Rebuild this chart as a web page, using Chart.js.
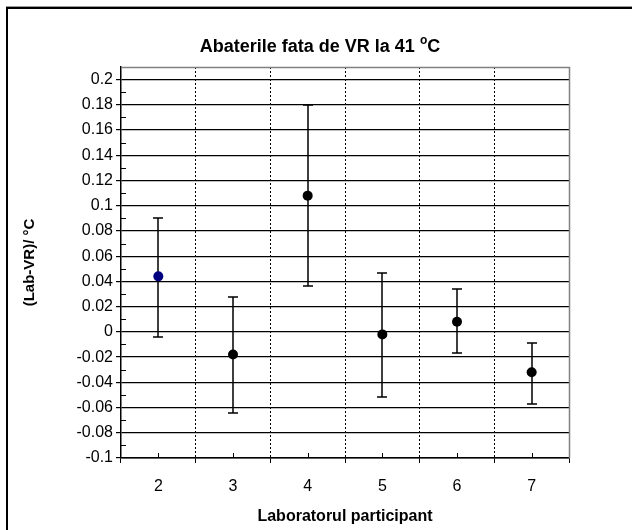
<!DOCTYPE html>
<html>
<head>
<meta charset="utf-8">
<script src="https://cdn.jsdelivr.net/npm/chart.js@4.4.0/dist/chart.umd.min.js"></script>
<style>
  html, body { margin: 0; padding: 0; background: #fff; }
  #wrap { width: 632px; height: 530px; }
</style>
</head>
<body>
<div id="wrap"><canvas id="chart" width="632" height="530"></canvas></div>
<script>
// valori
const labs = ['2', '3', '4', '5', '6', '7'];
const deviations = [0.044, -0.018, 0.108, -0.002, 0.008, -0.032];
const errLow = [-0.004, -0.064, 0.036, -0.052, -0.017, -0.057];
const errHigh = [0.090, 0.028, 0.180, 0.047, 0.034, -0.009];
const pointColors = ['#000080', '#000', '#000', '#000', '#000', '#000'];
const yTicks = [-0.1, -0.08, -0.06, -0.04, -0.02, 0, 0.02, 0.04, 0.06, 0.08, 0.1, 0.12, 0.14, 0.16, 0.18, 0.2];
const yMin = -0.1, yMax = 0.21;

const titleMain = 'Abaterile fata de VR la 41 ';
const titleSup = 'o';
const titleEnd = 'C';
const xTitle = 'Laboratorul participant';
const yTitle = '(Lab-VR)/ °C';

const FONT = "'Liberation Sans', Arial, sans-serif";

// bare de eroare, liniute secundare, rama
const decor = {
  id: 'decor',
  beforeDatasetsDraw(chart) {
    const { ctx, scales: { x, y } } = chart;
    ctx.save();
    ctx.strokeStyle = '#000';
    ctx.lineWidth = 1.5;
    labs.forEach((lab, i) => {
      const px = Math.round(x.getPixelForValue(i));
      const top = Math.round(y.getPixelForValue(errHigh[i]));
      const bot = Math.round(y.getPixelForValue(errLow[i]));
      ctx.beginPath();
      ctx.moveTo(px, top); ctx.lineTo(px, bot);
      ctx.moveTo(px - 5, top); ctx.lineTo(px + 5, top);
      ctx.moveTo(px - 5, bot); ctx.lineTo(px + 5, bot);
      ctx.stroke();
    });
    ctx.restore();
  },
  afterDraw(chart) {
    const { ctx, chartArea: a, scales: { x, y } } = chart;
    ctx.save();
    // rama gri sus / dreapta
    ctx.strokeStyle = '#808080';
    ctx.lineWidth = 1.5;
    ctx.beginPath();
    ctx.moveTo(a.left, a.top + 0.5);
    ctx.lineTo(a.right + 0.5, a.top + 0.5);
    ctx.lineTo(a.right + 0.5, a.bottom);
    ctx.stroke();

    ctx.strokeStyle = '#000';
    ctx.lineWidth = 1;
    ctx.beginPath();
    // liniute minore pe Y, spre interior
    yTicks.forEach(v => {
      const py = Math.round(y.getPixelForValue(v + 0.01)) + 0.5;
      if (v + 0.01 < yMax) { ctx.moveTo(a.left, py); ctx.lineTo(a.left + 5, py); }
    });
    // liniute in dreptul categoriilor, spre interior
    labs.forEach((lab, i) => {
      const px = Math.round(x.getPixelForValue(i)) + 0.5;
      ctx.moveTo(px, a.bottom); ctx.lineTo(px, a.bottom - 5);
    });
    ctx.stroke();

    // rama exterioara
    ctx.strokeStyle = '#999';
    ctx.lineWidth = 1;
    ctx.beginPath(); ctx.moveTo(6, 6.5); ctx.lineTo(632, 6.5); ctx.stroke();
    ctx.strokeStyle = '#000';
    ctx.lineWidth = 2;
    ctx.beginPath(); ctx.moveTo(7, 530); ctx.lineTo(7, 8); ctx.lineTo(632, 8); ctx.stroke();

    // titlu cu "o" ridicat
    ctx.fillStyle = '#000';
    ctx.textBaseline = 'alphabetic';
    const big = 'bold 18px ' + FONT, small = 'bold 12px ' + FONT;
    ctx.font = big;
    const w1 = ctx.measureText(titleMain).width, w3 = ctx.measureText(titleEnd).width;
    ctx.font = small;
    const w2 = ctx.measureText(titleSup).width;
    let tx = 320 - (w1 + w2 + w3) / 2;
    const base = 52;
    ctx.font = big; ctx.fillText(titleMain, tx, base); tx += w1;
    ctx.font = small; ctx.fillText(titleSup, tx, base - 8); tx += w2;
    ctx.font = big; ctx.fillText(titleEnd, tx, base);
    ctx.restore();
  }
};

new Chart(document.getElementById('chart'), {
  type: 'line',
  data: {
    labels: labs,
    datasets: [{
      data: deviations,
      showLine: false,
      pointRadius: 5,
      pointBorderWidth: 0,
      pointBackgroundColor: pointColors,
      pointBorderColor: pointColors
    }]
  },
  options: {
    responsive: false,
    animation: false,
    events: [],
    layout: { padding: { top: 67, right: 63, bottom: 0, left: 0 } },
    plugins: {
      legend: { display: false },
      title: { display: false },
      tooltip: { enabled: false }
    },
    scales: {
      x: {
        type: 'category',
        offset: true,
        grid: {
          offset: true,
          color: c => (c.type !== 'tick' || c.index === 0) ? 'rgba(0,0,0,0)' : '#000',
          lineWidth: 1,
          tickColor: '#000',
          tickLength: 5
        },
        border: { color: '#000', width: 1.5, dash: [2, 2] },
        ticks: { color: '#000', font: { family: FONT, size: 16 }, padding: 14, maxRotation: 0 },
        title: {
          display: true, text: xTitle, color: '#000',
          font: { family: FONT, size: 16, weight: 'bold' },
          padding: { top: 0, bottom: 4 }
        },
        afterFit: s => { s.height = 72; }
      },
      y: {
        min: yMin,
        max: yMax,
        afterBuildTicks: s => { s.ticks = yTicks.map(v => ({ value: v })); },
        ticks: {
          color: '#000', font: { family: FONT, size: 16 }, padding: 3,
          callback: v => String(+(+v).toFixed(2))
        },
        grid: { color: '#000', lineWidth: 1.2, tickColor: '#000', tickLength: 5 },
        border: { color: '#000', width: 1.5 },
        title: {
          display: true, text: yTitle, color: '#000',
          font: { family: FONT, size: 15, weight: 'bold' },
          padding: { top: 21, bottom: 0 }
        },
        afterFit: s => { s.width = 121; }
      }
    }
  },
  plugins: [decor]
});
</script>
</body>
</html>
